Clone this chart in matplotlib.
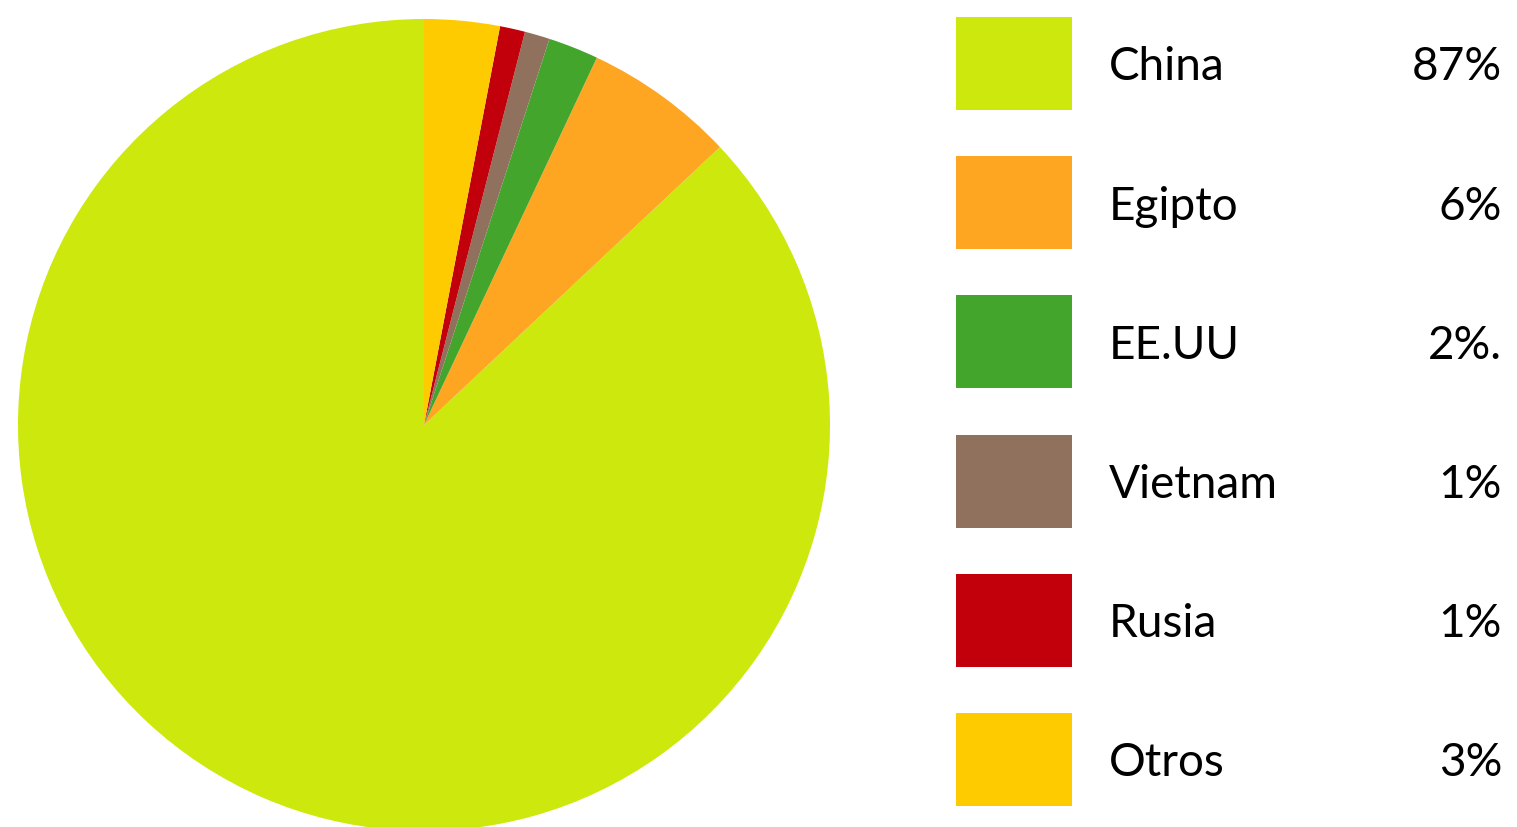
import matplotlib.pyplot as plt
from matplotlib.patches import Rectangle

# data
countries = ['China', 'Egipto', 'EE.UU', 'Vietnam', 'Rusia', 'Otros']
shares = [87, 6, 2, 1, 1, 3]
share_labels = ['87%', '6%', '2%.', '1%', '1%', '3%']
colors = ['#CDE80C', '#FEA522', '#43A52B', '#90715D', '#C1000C', '#FECB00']

W, H = 1517, 827
fig = plt.figure(figsize=(W / 100, H / 100), dpi=100)
ax = fig.add_axes([0, 0, 1, 1])

# pie, starting at 12 o'clock, counterclockwise
ax.pie(shares, colors=colors, startangle=90, counterclock=True,
       center=(424, H - 425), radius=406,
       wedgeprops=dict(linewidth=0))

# legend drawn by hand: squares + name + percent
row0, step = 63.5, 139.2
for i, (name, lab, c) in enumerate(zip(countries, share_labels, colors)):
    yc = H - (row0 + i * step)
    ax.add_patch(Rectangle((956, yc - 46.5), 116, 93, facecolor=c, edgecolor='none'))
    ax.text(1109, yc - 4, name, fontsize=33, family='Lato',
            color='black', va='center', ha='left')
    ax.text(1502, yc - 4, lab, fontsize=33, family='Lato',
            color='black', va='center', ha='right')

ax.set_xlim(0, W)
ax.set_ylim(0, H)
ax.set_aspect('auto')
ax.axis('off')

fig.savefig('out.png', dpi=100, facecolor='white')
